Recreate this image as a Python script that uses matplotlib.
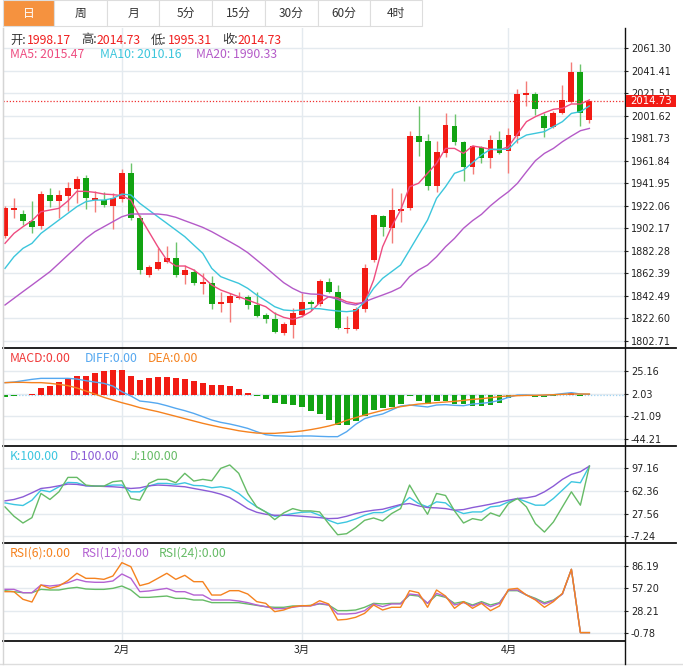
import numpy as np
import matplotlib.pyplot as plt
from matplotlib.patches import Rectangle
from matplotlib.lines import Line2D

W, H = 683, 670
CJK = ['Noto Sans CJK SC', 'DejaVu Sans']

# ---- daily candles ----
opens = [1895.7, 1918.6, 1915.1, 1908.6, 1904.2, 1931.9, 1926.6, 1931.0, 1937.2, 1946.6,
         1927.4, 1927.4, 1922.2, 1927.7, 1950.7, 1911.0, 1860.6, 1866.5, 1872.1, 1875.7,
         1860.9, 1863.9, 1853.0, 1853.6, 1835.7, 1836.5, 1840.4, 1841.5, 1834.5, 1825.4,
         1822.4, 1810.1, 1816.5, 1825.9, 1837.1, 1835.4, 1855.1, 1846.3, 1813.0, 1813.6,
         1830.6, 1874.2, 1913.3, 1902.7, 1917.7, 1920.4, 1983.6, 1978.9, 1939.8, 1968.6,
         1992.8, 1978.0, 1956.0, 1973.6, 1963.9, 1980.1, 1970.4, 1983.9, 2020.1, 2020.7,
         2001.3, 1991.3, 2003.6, 2013.9, 2040.1, 1998.17]
highs = [1922.2, 1929.2, 1918.3, 1926.3, 1935.1, 1938.0, 1936.0, 1942.7, 1948.6, 1949.5,
         1934.8, 1934.2, 1933.0, 1954.8, 1959.8, 1913.9, 1869.8, 1884.5, 1886.6, 1890.4,
         1869.8, 1866.0, 1862.4, 1860.1, 1845.7, 1845.0, 1845.7, 1843.3, 1845.7, 1827.1,
         1828.0, 1819.5, 1831.5, 1844.8, 1839.2, 1857.1, 1858.6, 1852.1, 1824.8, 1833.0,
         1870.4, 1914.8, 1913.9, 1938.0, 1933.6, 1988.0, 2010.1, 1985.4, 1979.5, 2003.6,
         2003.0, 1979.2, 1975.7, 1974.8, 1984.5, 1988.0, 1990.7, 2025.1, 2032.2, 2022.2,
         2003.6, 2005.7, 2028.7, 2048.6, 2047.2, 2014.73]
lows = [1893.3, 1911.6, 1905.1, 1897.7, 1901.3, 1921.3, 1911.6, 1917.7, 1924.2, 1918.9,
        1916.8, 1921.3, 1901.3, 1925.7, 1909.5, 1862.1, 1859.5, 1865.1, 1871.2, 1859.5,
        1853.0, 1852.1, 1843.9, 1831.2, 1828.0, 1819.8, 1839.5, 1830.6, 1823.6, 1818.3,
        1809.5, 1808.0, 1805.6, 1824.2, 1830.1, 1833.6, 1845.4, 1813.3, 1810.1, 1812.4,
        1828.6, 1872.1, 1895.7, 1888.9, 1908.0, 1918.3, 1966.0, 1935.9, 1934.5, 1965.4,
        1975.7, 1944.2, 1949.8, 1959.5, 1955.7, 1967.8, 1950.7, 1977.2, 2010.4, 2002.2,
        1982.5, 1990.4, 2002.8, 2013.0, 1992.8, 1995.31]
closes = [1920.4, 1919.8, 1908.3, 1903.6, 1932.4, 1926.6, 1931.6, 1937.7, 1945.7, 1929.2,
          1928.6, 1923.0, 1928.6, 1950.7, 1911.6, 1865.4, 1867.7, 1872.1, 1875.7, 1861.3,
          1865.4, 1853.6, 1854.5, 1835.4, 1836.8, 1842.4, 1841.8, 1834.8, 1825.1, 1822.4,
          1810.9, 1817.7, 1827.1, 1837.1, 1835.7, 1855.7, 1846.3, 1813.9, 1814.5, 1830.6,
          1866.8, 1913.9, 1903.6, 1918.6, 1919.2, 1983.6, 1978.6, 1939.8, 1969.8, 1993.3,
          1978.6, 1956.6, 1974.8, 1964.5, 1980.4, 1968.9, 1984.5, 2020.4, 2021.2, 2007.5,
          1991.0, 2003.6, 2015.1, 2040.1, 2004.2, 2014.73]

ma5 = [1888.9, 1897.7, 1903.6, 1908.9, 1916.8, 1918.3, 1919.8, 1926.3, 1934.8, 1934.8,
       1933.9, 1932.4, 1931.9, 1931.0, 1927.1, 1912.4, 1899.2, 1885.9, 1874.2, 1868.9,
       1868.9, 1865.4, 1859.5, 1852.1, 1847.7, 1844.8, 1841.8, 1838.9, 1835.9, 1833.0,
       1827.1, 1823.6, 1821.8, 1824.2, 1828.6, 1836.5, 1841.8, 1840.9, 1837.4, 1835.9,
       1836.5, 1856.5, 1885.9, 1903.6, 1918.3, 1938.9, 1941.9, 1950.7, 1959.5, 1972.7,
       1972.7, 1968.3, 1974.8, 1973.6, 1971.9, 1971.3, 1974.2, 1985.4, 1996.3, 2000.7,
       2004.2, 2007.2, 2008.1, 2011.9, 2011.9, 2015.47]
ma10 = [1866.8, 1877.1, 1884.5, 1888.9, 1897.7, 1903.6, 1909.5, 1915.4, 1921.3, 1925.7,
        1927.1, 1927.1, 1928.6, 1932.4, 1931.6, 1924.2, 1918.3, 1912.4, 1906.6, 1900.7,
        1894.8, 1887.4, 1880.1, 1866.8, 1859.5, 1856.5, 1853.6, 1849.2, 1843.3, 1838.3,
        1833.0, 1830.1, 1829.5, 1830.1, 1831.5, 1831.2, 1830.1, 1829.2, 1828.6, 1829.5,
        1837.4, 1849.2, 1858.0, 1863.9, 1869.8, 1883.0, 1896.3, 1909.5, 1928.6, 1938.9,
        1950.7, 1953.6, 1960.1, 1966.9, 1971.9, 1971.9, 1971.9, 1980.1, 1984.5, 1986.0,
        1987.5, 1991.9, 1996.3, 2003.6, 2005.1, 2010.16]
ma20 = [1834.5, 1840.4, 1846.3, 1852.1, 1858.0, 1863.9, 1871.2, 1878.6, 1885.9, 1893.3,
        1899.2, 1903.6, 1908.0, 1912.4, 1914.8, 1914.8, 1914.8, 1914.8, 1913.9, 1911.9,
        1908.9, 1906.0, 1903.0, 1899.2, 1894.8, 1890.4, 1885.9, 1880.7, 1874.2, 1867.7,
        1860.9, 1854.2, 1849.2, 1845.4, 1844.2, 1843.9, 1841.8, 1839.5, 1835.9, 1834.5,
        1837.4, 1840.4, 1843.3, 1846.3, 1850.1, 1859.5, 1865.4, 1869.8, 1877.1, 1885.9,
        1893.3, 1902.2, 1908.9, 1914.5, 1922.1, 1928.6, 1934.5, 1941.9, 1952.1, 1961.9,
        1968.3, 1972.7, 1978.6, 1983.6, 1988.3, 1990.33]

# ---- MACD ----
macd = [-1.4, -0.5, 0.0, 1.4, 7.5, 10.0, 14.0, 16.8, 20.2, 20.2,
        23.0, 24.7, 26.4, 26.0, 20.2, 15.8, 17.8, 19.2, 19.2, 18.2,
        17.1, 14.4, 13.0, 11.0, 10.3, 9.9, 6.5, 2.4, -0.3, -4.1,
        -7.5, -8.9, -9.9, -12.3, -15.8, -18.8, -25.3, -30.1, -30.1, -26.0,
        -21.2, -15.4, -13.0, -11.6, -8.6, -0.7, -5.5, -8.6, -5.8, -5.8,
        -8.9, -9.2, -11.3, -10.6, -9.6, -7.9, -2.7, 0.7, 0.2, -1.7,
        -2.0, -0.5, 1.0, 2.4, -0.5, 0.0]
diff = [13.2, 13.8, 15.2, 16.6, 17.6, 17.6, 17.6, 17.6, 16.9, 15.2,
        13.8, 12.5, 9.7, 3.9, -0.5, -5.7, -6.7, -8.1, -10.5, -13.2,
        -15.6, -18.4, -21.8, -25.2, -27.6, -29.3, -31.4, -33.8, -37.2, -40.3,
        -41.3, -41.6, -42.0, -41.6, -41.6, -42.0, -42.3, -42.3, -37.2, -29.7,
        -23.8, -21.1, -19.0, -14.9, -10.8, -9.8, -10.8, -11.8, -9.8, -9.4,
        -10.1, -10.5, -8.8, -8.1, -7.0, -5.0, -1.9, 0.5, 0.5, 0.1,
        0.1, 0.8, 1.9, 2.9, 1.5, 1.2]
dea = [13.2, 13.5, 13.5, 13.2, 13.2, 12.5, 11.4, 10.1, 7.7, 4.6,
       1.5, -1.9, -4.7, -7.4, -9.8, -12.5, -14.6, -16.6, -19.0, -21.4,
       -23.8, -26.2, -28.6, -30.7, -32.7, -34.4, -36.2, -37.5, -38.6, -38.9,
       -38.9, -38.2, -37.5, -36.5, -35.1, -33.4, -31.4, -29.0, -25.5, -22.8,
       -20.1, -17.7, -15.3, -13.2, -11.5, -10.1, -8.8, -8.1, -7.4, -6.7,
       -6.0, -5.0, -4.0, -3.3, -2.3, -1.2, -0.5, -0.2, 0.1, 0.1,
       0.5, 0.8, 1.2, 1.5, 1.5, 1.5]

# ---- KDJ ----
k_line = [43.9, 41.4, 39.9, 48.0, 63.4, 60.8, 68.5, 75.1, 74.6, 70.0,
          69.5, 69.5, 71.1, 71.1, 60.8, 60.8, 69.5, 73.6, 73.6, 72.1,
          74.6, 70.5, 70.0, 67.0, 68.5, 65.9, 58.3, 47.0, 37.8, 30.1,
          23.5, 25.0, 27.6, 29.6, 30.1, 25.0, 17.3, 12.2, 14.8, 19.4,
          25.0, 29.1, 29.1, 35.2, 40.4, 52.1, 42.9, 37.8, 45.5, 43.9,
          32.7, 27.6, 30.1, 30.1, 37.8, 39.3, 45.5, 50.6, 45.5, 40.4,
          40.4, 50.6, 63.4, 76.2, 74.6, 100.0]
d_line = [47.0, 49.1, 53.1, 59.3, 65.9, 67.5, 70.0, 72.6, 72.1, 70.0,
          69.5, 69.0, 68.5, 67.5, 65.9, 66.9, 70.0, 71.1, 70.5, 69.5,
          68.5, 65.9, 63.4, 60.8, 57.2, 52.1, 43.9, 35.2, 29.6, 26.5,
          25.0, 25.0, 24.5, 23.5, 22.4, 21.4, 19.9, 20.4, 23.5, 27.6,
          30.6, 32.7, 34.2, 37.8, 41.4, 42.9, 39.3, 36.8, 36.3, 35.2,
          32.7, 33.7, 36.8, 39.3, 41.9, 45.0, 48.0, 50.6, 51.6, 54.2,
          60.8, 69.5, 79.8, 87.4, 91.5, 100.0]
j_line = [37.8, 23.5, 13.2, 21.4, 58.3, 49.1, 60.8, 82.8, 82.8, 71.1,
          69.5, 69.5, 76.2, 77.7, 50.6, 48.0, 73.6, 79.8, 79.8, 74.6,
          89.0, 77.2, 79.8, 77.7, 96.6, 101.8, 89.0, 58.3, 37.8, 30.1,
          18.4, 28.6, 35.2, 31.7, 31.7, 30.1, 12.2, -4.7, -3.1, 6.1,
          17.3, 20.9, 16.3, 27.6, 35.2, 71.1, 48.0, 26.5, 58.3, 55.2,
          31.7, 13.2, 19.9, 17.3, 28.6, 23.5, 42.9, 50.6, 37.8, 12.2,
          -0.6, 14.8, 37.8, 60.8, 40.4, 100.0]

# ---- RSI ----
rsi6 = [52.7, 52.7, 42.9, 39.4, 61.3, 57.0, 60.0, 66.9, 76.4, 69.9,
        69.9, 68.6, 72.9, 90.1, 84.9, 60.5, 63.5, 69.9, 76.4, 68.6,
        73.8, 65.6, 65.6, 48.4, 48.4, 54.0, 54.0, 49.7, 39.9, 37.7,
        27.0, 29.1, 33.4, 34.7, 34.7, 41.1, 36.9, 16.2, 17.1, 19.7,
        24.8, 35.6, 29.1, 32.6, 32.6, 54.0, 51.4, 32.6, 54.9, 47.1,
        31.3, 39.9, 31.3, 37.7, 28.3, 34.3, 55.7, 57.0, 48.4, 42.0,
        32.6, 39.9, 50.6, 81.5, 0.0, 0.0]
rsi12 = [55.7, 55.7, 51.4, 51.4, 61.3, 60.0, 61.3, 64.3, 68.6, 65.6,
         64.8, 64.8, 66.5, 75.5, 69.9, 52.7, 53.6, 55.3, 57.0, 52.7,
         52.7, 48.4, 48.4, 42.0, 42.0, 42.0, 40.7, 38.6, 35.6, 33.4,
         30.9, 30.9, 32.6, 34.3, 34.3, 37.7, 35.6, 24.0, 24.0, 24.8,
         28.3, 36.9, 33.4, 36.9, 36.9, 49.7, 48.4, 37.7, 50.6, 46.3,
         35.6, 38.6, 34.3, 38.6, 33.4, 37.7, 54.9, 54.9, 48.4, 42.9,
         36.9, 41.1, 49.7, 81.5, 0.0, 0.0]
rsi24 = [54.0, 52.7, 51.4, 51.4, 55.7, 54.9, 54.9, 57.0, 58.3, 56.2,
         55.7, 55.7, 57.0, 60.0, 54.9, 45.4, 45.4, 46.3, 47.1, 44.1,
         44.1, 42.0, 42.0, 38.6, 38.6, 38.6, 38.6, 36.9, 35.1, 33.4,
         32.6, 32.6, 34.3, 34.3, 35.1, 36.9, 35.6, 28.3, 28.3, 29.1,
         32.6, 37.7, 36.9, 37.7, 37.7, 48.4, 47.1, 37.7, 48.4, 45.4,
         37.7, 39.9, 35.6, 39.9, 35.6, 38.6, 54.0, 54.0, 48.4, 44.1,
         38.6, 42.0, 49.7, 81.5, 0.0, 0.0]

month_idx = [13, 33, 56]
month_labels = ['2月', '3月', '4月']
tabs = ['日', '周', '月', '5分', '15分', '30分', '60分', '4时']

price_ticks = ['2061.30', '2041.41', '2021.51', '2001.62', '1981.73', '1961.84', '1941.95',
               '1922.06', '1902.17', '1882.28', '1862.39', '1842.49', '1822.60', '1802.71']
macd_ticks = ['25.16', '2.03', '-21.09', '-44.21']
kdj_ticks = ['97.16', '62.36', '27.56', '-7.24']
rsi_ticks = ['86.19', '57.20', '28.21', '-0.78']

RED = '#F21B14'
GREEN = '#12A312'
GRID = '#E4EAEF'


def fx(px):
    return px / W


def fy(py):
    return 1 - py / H


fig = plt.figure(figsize=(6.83, 6.70), dpi=100)


def make_ax(top, bottom):
    return fig.add_axes([fx(3), fy(bottom), fx(624) - fx(3), (bottom - top) / H])


ax_k = make_ax(28, 348)
ax_m = make_ax(348, 446)
ax_j = make_ax(446, 543)
ax_r = make_ax(543, 641)

panels = [(ax_k, price_ticks, (1796.55, 2078.95)),
          (ax_m, macd_ticks, (-51.9, 48.8)),
          (ax_j, kdj_ticks, (-17.3, 130.7)),
          (ax_r, rsi_ticks, (-10.8, 115.4))]

x = np.arange(len(closes))

for ax, ticks, lim in panels:
    ax.set_xlim(-0.22, 68.85)
    ax.set_ylim(lim)
    vals = [float(t) for t in ticks]
    ax.set_yticks(vals, ticks)
    ax.yaxis.tick_right()
    ax.tick_params(axis='y', length=3, width=0.8, color='#222', labelsize=7,
                   pad=2, labelcolor='#222')
    ax.set_xticks([])
    for v in vals:
        ax.axhline(v, color=GRID, lw=1, zorder=0)
    for m in month_idx:
        ax.axvline(m, color=GRID, lw=1, zorder=0)
    ax.spines['left'].set_color('#D5D5D5')
    ax.spines['right'].set_visible(False)
    ax.spines['top'].set_visible(False)
    ax.spines['bottom'].set_visible(False)

# candles
o = np.array(opens)
c = np.array(closes)
up = c >= o
body_lo = np.minimum(o, c)
body_h = np.maximum(np.abs(c - o), 1.0)
wick_col = np.where(up, '#F47C78', '#6CC46C')
ax_k.vlines(x, lows, highs, colors=wick_col, lw=1, zorder=2)
ax_k.bar(x, body_h, bottom=body_lo, width=0.66,
         color=np.where(up, RED, GREEN), zorder=3)
ax_k.plot(x, ma5, color='#EE4C80', lw=1, zorder=4)
ax_k.plot(x, ma10, color='#3CC6DC', lw=1, zorder=4)
ax_k.plot(x, ma20, color='#B45AC8', lw=1, zorder=4)
ax_k.axhline(closes[-1], color='#F03030', lw=0.9, ls=(0, (1, 1.5)), zorder=5)

# macd
mc = np.array(macd)
ax_m.axhline(0, color='#9FD3F2', lw=0.9, ls=(0, (1, 1.5)), zorder=1)
ax_m.bar(x, mc, width=0.66, color=np.where(mc >= 0, RED, GREEN), zorder=2)
ax_m.plot(x, diff, color='#55A8F0', lw=1, zorder=3)
ax_m.plot(x, dea, color='#F5821F', lw=1, zorder=3)

# kdj
ax_j.plot(x, k_line, color='#3CC6E0', lw=1, zorder=3)
ax_j.plot(x, d_line, color='#8B5BD6', lw=1, zorder=3)
ax_j.plot(x, j_line, color='#66BB66', lw=1, zorder=3)

# rsi
ax_r.plot(x, rsi24, color='#66BB66', lw=1, zorder=3)
ax_r.plot(x, rsi12, color='#B462D2', lw=1, zorder=3)
ax_r.plot(x, rsi6, color='#F5821F', lw=1, zorder=3)
ax_r.set_xticks(month_idx, month_labels, family=CJK, fontsize=7.5, color='#222')
ax_r.tick_params(axis='x', length=0, pad=3)

# frame lines
def hline(py, x0, x1, color, lw):
    fig.add_artist(Line2D([fx(x0), fx(x1)], [fy(py), fy(py)], color=color, lw=lw))


for py in (348, 446, 543):
    hline(py, 3, 676, '#111', 1.3)
hline(641, 3, 625, '#111', 1.3)
hline(664, 0, W, '#DDDDDD', 1)
fig.add_artist(Line2D([fx(625), fx(625)], [fy(28), fy(664)], color='#111', lw=1))
fig.add_artist(Line2D([fx(3), fx(3)], [fy(28), fy(664)], color='#D5D5D5', lw=1))

# last price label (covers part of the 2021.51 tick, as in the original)
fig.add_artist(Rectangle((fx(626), fy(107)), fx(50), 12 / H, transform=fig.transFigure,
                         facecolor=RED, edgecolor='none', zorder=10))
fig.text(fx(651), fy(101), '%.2f' % closes[-1], color='white', fontsize=7.3,
         ha='center', va='center', zorder=11)

# tab bar
edges = [3, 54, 107, 159, 212, 265, 318, 370, 422]
for i, name in enumerate(tabs):
    x0, x1 = edges[i], edges[i + 1]
    fig.add_artist(Rectangle((fx(x0), fy(26)), fx(x1 - x0), 26 / H, transform=fig.transFigure,
                             facecolor='#F5923F' if i == 0 else 'white',
                             edgecolor='#DDDDDD', lw=0.8))
    fig.text(fx((x0 + x1) / 2), fy(13), name, family=CJK, fontsize=8.5,
             color='white' if i == 0 else '#333', ha='center', va='center')

# legends
def label(px, py, s, color):
    fig.text(fx(px), fy(py), s, family=CJK, fontsize=8.8, color=color, va='center')


for px, s in [(10, '开:'), (81, '高:'), (151, '低:'), (222, '收:')]:
    label(px, 40, s, '#333')
for px, v in [(27, opens[-1]), (97, highs[-1]), (168, lows[-1]), (238, closes[-1])]:
    label(px, 40, '%.2f' % v, '#F01E1E')
label(10, 54, 'MA5: %.2f' % ma5[-1], '#EE4C80')
label(100, 54, 'MA10: %.2f' % ma10[-1], '#3CC6DC')
label(196, 54, 'MA20: %.2f' % ma20[-1], '#B45AC8')

label(10, 358, 'MACD:0.00', '#F03A3A')
label(85, 358, 'DIFF:0.00', '#55A8F0')
label(148, 358, 'DEA:0.00', '#F5821F')

label(10, 456, 'K:100.00', '#3CC6E0')
label(70, 456, 'D:100.00', '#8B5BD6')
label(131, 456, 'J:100.00', '#66BB66')

label(10, 553, 'RSI(6):0.00', '#F5821F')
label(82, 553, 'RSI(12):0.00', '#B462D2')
label(159, 553, 'RSI(24):0.00', '#66BB66')

fig.savefig('out.png', dpi=100)
